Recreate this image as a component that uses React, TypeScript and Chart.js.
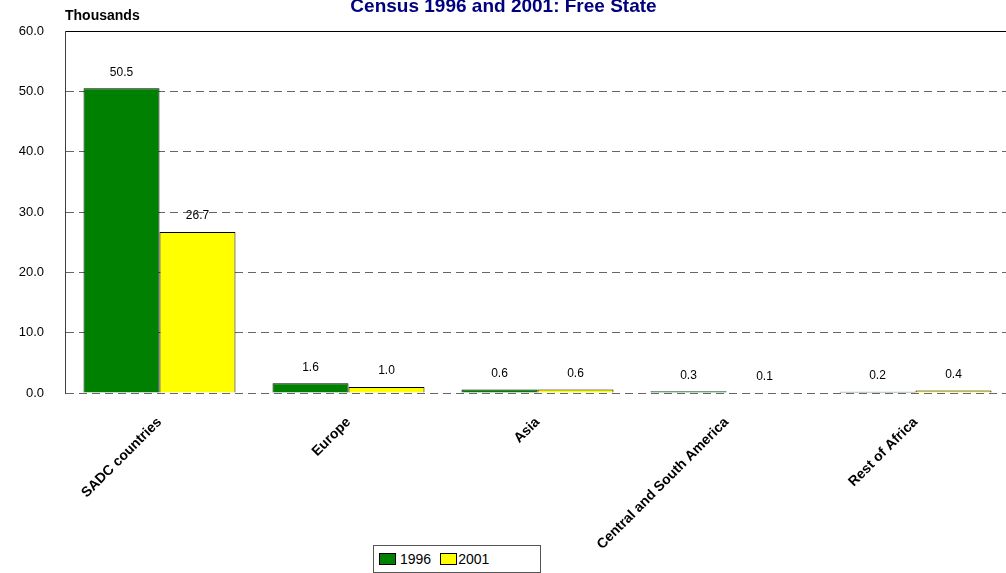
import React, { useEffect, useRef } from "react";
import { Chart, registerables } from "chart.js";

Chart.register(...registerables);

const categories = ["SADC countries", "Europe", "Asia", "Central and South America", "Rest of Africa"];
const values1996 = [50.5, 1.6, 0.6, 0.3, 0.2];
const values2001 = [26.7, 1.0, 0.6, 0.1, 0.4];
const seriesLabels = ["1996", "2001"];
const seriesColors = ["#008000", "#FFFF00"];
const yTicks = [0, 10, 20, 30, 40, 50, 60];
const titleText = "Census 1996 and 2001: Free State";
const unitText = "Thousands";

const FAMILY = "Arial, 'Liberation Sans', sans-serif";

const textPlugin = {
  id: "texts",
  afterDatasetsDraw(chart: any) {
    const ctx = chart.ctx;
    ctx.save();
    ctx.font = `12px ${FAMILY}`;
    ctx.fillStyle = "#000";
    ctx.textAlign = "center";
    ctx.textBaseline = "middle";
    chart.data.datasets.forEach((ds: any, i: number) => {
      const meta = chart.getDatasetMeta(i);
      meta.data.forEach((bar: any, j: number) => {
        const v = ds.data[j] as number;
        ctx.fillText(v.toFixed(1), bar.x, bar.y - 16);
      });
    });
    ctx.font = `bold 19px ${FAMILY}`;
    ctx.fillStyle = "#000080";
    ctx.textBaseline = "alphabetic";
    ctx.textAlign = "center";
    ctx.fillText(titleText, 503.5, 12);
    ctx.font = `bold 14px ${FAMILY}`;
    ctx.fillStyle = "#000";
    ctx.textAlign = "left";
    ctx.fillText(unitText, 65, 20);
    ctx.restore();
  },
};

function BarChart() {
  const ref = useRef<HTMLCanvasElement | null>(null);
  useEffect(() => {
    if (!ref.current) return;
    const chart = new Chart(ref.current, {
      type: "bar",
      data: {
        labels: categories,
        datasets: [
          {
            label: seriesLabels[0],
            data: values1996,
            backgroundColor: seriesColors[0],
            borderColor: "#000",
            borderWidth: 1,
            barPercentage: 1,
            categoryPercentage: 0.804,
          },
          {
            label: seriesLabels[1],
            data: values2001,
            backgroundColor: seriesColors[1],
            borderColor: "#000",
            borderWidth: 1,
            barPercentage: 1,
            categoryPercentage: 0.804,
          },
        ],
      },
      options: {
        responsive: false,
        animation: false,
        devicePixelRatio: 1,
        layout: { padding: { top: 31, right: 2, bottom: 0, left: 0 } },
        plugins: {
          legend: { display: false },
          tooltip: { enabled: false },
          title: { display: false },
        },
        scales: {
          x: {
            grid: { display: false },
            border: { display: false },
            ticks: {
              autoSkip: false,
              maxRotation: 45,
              minRotation: 45,
              padding: 13,
              color: "#000",
              font: { size: 14, weight: "bold", family: FAMILY },
            },
            afterFit: (s: any) => {
              s.height = 180;
            },
          },
          y: {
            min: 0,
            max: 60,
            afterBuildTicks: (s: any) => {
              s.ticks = yTicks.map((v) => ({ value: v }));
            },
            ticks: {
              padding: 21,
              color: "#000",
              font: { size: 13, family: FAMILY },
              callback: (v: any) => Number(v).toFixed(1),
            },
            grid: {
              drawTicks: false,
              lineWidth: 1,
              color: (c: any) => (c.tick && c.tick.value === 60 ? "#000" : "#666"),
            },
            border: {
              display: true,
              color: "#404040",
              width: 1,
              dash: (c: any) => (c.tick && c.tick.value === 60 ? [] : [8, 5]),
            },
            afterFit: (s: any) => {
              s.width = 65;
            },
          },
        },
      },
      plugins: [textPlugin],
    } as any);
    return () => chart.destroy();
  }, []);

  return (
    <div
      style={{
        position: "absolute",
        left: 0,
        top: 0,
        width: 1006,
        height: 573,
        overflow: "hidden",
        background: "#fff",
      }}
    >
      <canvas ref={ref} width={1012} height={573} style={{ display: "block" }} />
      <div
        style={{
          position: "absolute",
          left: 373,
          top: 545,
          width: 168,
          height: 28,
          boxSizing: "border-box",
          border: "1px solid #555",
          background: "#fff",
          display: "flex",
          alignItems: "center",
          fontFamily: FAMILY,
          fontSize: 14,
          color: "#000",
        }}
      >
        {seriesLabels.map((l, i) => (
          <span
            key={l}
            style={{ display: "flex", alignItems: "center", marginLeft: i === 0 ? 5 : 9 }}
          >
            <span
              style={{
                display: "inline-block",
                width: 17,
                height: 12,
                boxSizing: "border-box",
                background: seriesColors[i],
                border: "1px solid #000",
                marginRight: i === 0 ? 4 : 1,
              }}
            />
            {l}
          </span>
        ))}
      </div>
    </div>
  );
}

export default function App() {
  return <BarChart />;
}
